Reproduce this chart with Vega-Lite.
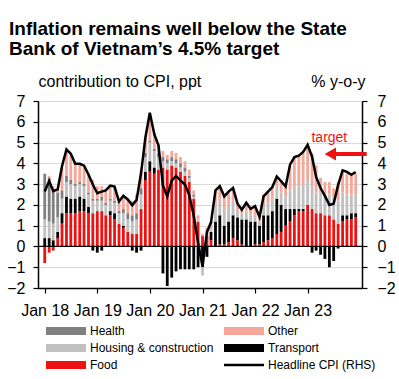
{
  "$schema": "https://vega.github.io/schema/vega-lite/v6.json",
  "width": 324,
  "height": 187,
  "autosize": "none",
  "padding": {"left": 38, "top": 101, "right": 37, "bottom": 91},
  "background": "white",
  "config": {
    "view": {"stroke": null},
    "font": "Liberation Sans Narrow, Liberation Sans, sans-serif",
    "axis": {
      "domainColor": "black", "domainWidth": 1.5, "tickColor": "black", "tickSize": 5, "tickWidth": 1.2,
      "labelColor": "black", "labelFont": "Liberation Sans Narrow, Liberation Sans, sans-serif", "labelFontSize": 16,
      "labelOverlap": false,
      "titleColor": "black", "titleFont": "Liberation Sans Narrow, Liberation Sans, sans-serif", "titleFontSize": 16, "titleFontWeight": "normal"
    },
    "legend": {"labelFont": "Liberation Sans", "labelFontSize": 12, "labelColor": "black", "labelLimit": 300}
  },
  "title": {
    "text": ["Inflation remains well below the State", "Bank of Vietnam’s 4.5% target"],
    "anchor": "start", "frame": "group", "font": "Liberation Sans", "fontSize": 19, "fontWeight": "bold", "color": "black",
    "lineHeight": 20, "dx": -29, "dy": -6, "offset": 8
  },
  "datasets": {
    "rank": [
      {"key": "Food", "name": "Food", "rank": 1},
      {"key": "Transport", "name": "Transport", "rank": 2},
      {"key": "Housing", "name": "Housing & construction", "rank": 3},
      {"key": "Health", "name": "Health", "rank": 4},
      {"key": "Other", "name": "Other", "rank": 5}
    ],
    "cpi": [
      {"d": "2018-01-01", "Food": -0.8, "Transport": 0.4, "Housing": 0.9, "Health": 2.2, "Other": 0.0, "CPI": 2.65},
      {"d": "2018-02-01", "Food": -0.3, "Transport": 0.4, "Housing": 0.8, "Health": 2.1, "Other": 0.1, "CPI": 3.15},
      {"d": "2018-03-01", "Food": -0.2, "Transport": 0.3, "Housing": 0.8, "Health": 1.6, "Other": 0.2, "CPI": 2.66},
      {"d": "2018-04-01", "Food": 0.4, "Transport": 0.3, "Housing": 0.7, "Health": 1.2, "Other": 0.2, "CPI": 2.75},
      {"d": "2018-05-01", "Food": 1.1, "Transport": 0.5, "Housing": 0.7, "Health": 0.4, "Other": 1.1, "CPI": 3.86},
      {"d": "2018-06-01", "Food": 1.6, "Transport": 0.8, "Housing": 0.7, "Health": 0.3, "Other": 1.2, "CPI": 4.67},
      {"d": "2018-07-01", "Food": 1.6, "Transport": 0.7, "Housing": 0.7, "Health": 0.2, "Other": 1.2, "CPI": 4.46},
      {"d": "2018-08-01", "Food": 1.6, "Transport": 0.7, "Housing": 0.6, "Health": 0.1, "Other": 1.0, "CPI": 3.98},
      {"d": "2018-09-01", "Food": 1.7, "Transport": 0.7, "Housing": 0.6, "Health": 0.1, "Other": 0.9, "CPI": 3.98},
      {"d": "2018-10-01", "Food": 1.7, "Transport": 0.6, "Housing": 0.6, "Health": 0.1, "Other": 0.8, "CPI": 3.89},
      {"d": "2018-11-01", "Food": 1.6, "Transport": 0.3, "Housing": 0.6, "Health": 0.1, "Other": 0.9, "CPI": 3.46},
      {"d": "2018-12-01", "Food": 1.6, "Transport": -0.2, "Housing": 0.6, "Health": 0.1, "Other": 0.9, "CPI": 2.98},
      {"d": "2019-01-01", "Food": 1.7, "Transport": -0.3, "Housing": 0.5, "Health": 0.1, "Other": 0.6, "CPI": 2.56},
      {"d": "2019-02-01", "Food": 1.7, "Transport": -0.2, "Housing": 0.5, "Health": 0.2, "Other": 0.5, "CPI": 2.64},
      {"d": "2019-03-01", "Food": 1.5, "Transport": 0.0, "Housing": 0.5, "Health": 0.1, "Other": 0.6, "CPI": 2.70},
      {"d": "2019-04-01", "Food": 1.5, "Transport": 0.2, "Housing": 0.5, "Health": 0.1, "Other": 0.6, "CPI": 2.93},
      {"d": "2019-05-01", "Food": 1.3, "Transport": 0.3, "Housing": 0.5, "Health": 0.1, "Other": 0.7, "CPI": 2.88},
      {"d": "2019-06-01", "Food": 1.1, "Transport": 0.0, "Housing": 0.5, "Health": 0.1, "Other": 0.5, "CPI": 2.16},
      {"d": "2019-07-01", "Food": 0.9, "Transport": 0.1, "Housing": 0.6, "Health": 0.2, "Other": 0.6, "CPI": 2.44},
      {"d": "2019-08-01", "Food": 0.7, "Transport": 0.0, "Housing": 0.6, "Health": 0.3, "Other": 0.7, "CPI": 2.26},
      {"d": "2019-09-01", "Food": 0.6, "Transport": -0.2, "Housing": 0.6, "Health": 0.3, "Other": 0.7, "CPI": 1.98},
      {"d": "2019-10-01", "Food": 0.6, "Transport": -0.3, "Housing": 0.7, "Health": 0.3, "Other": 0.9, "CPI": 2.24},
      {"d": "2019-11-01", "Food": 1.8, "Transport": -0.2, "Housing": 0.7, "Health": 0.3, "Other": 0.9, "CPI": 3.52},
      {"d": "2019-12-01", "Food": 3.2, "Transport": 0.4, "Housing": 0.7, "Health": 0.2, "Other": 0.7, "CPI": 5.23},
      {"d": "2020-01-01", "Food": 3.6, "Transport": 0.5, "Housing": 0.9, "Health": 0.1, "Other": 1.0, "CPI": 6.43},
      {"d": "2020-02-01", "Food": 3.5, "Transport": 0.3, "Housing": 0.8, "Health": 0.1, "Other": 0.8, "CPI": 5.40},
      {"d": "2020-03-01", "Food": 3.7, "Transport": 0.0, "Housing": 0.6, "Health": 0.2, "Other": 0.4, "CPI": 4.87},
      {"d": "2020-04-01", "Food": 3.8, "Transport": -1.3, "Housing": 0.3, "Health": 0.2, "Other": 0.3, "CPI": 2.93},
      {"d": "2020-05-01", "Food": 3.7, "Transport": -1.9, "Housing": 0.3, "Health": 0.2, "Other": 0.2, "CPI": 2.40},
      {"d": "2020-06-01", "Food": 3.9, "Transport": -1.5, "Housing": 0.2, "Health": 0.2, "Other": 0.3, "CPI": 3.17},
      {"d": "2020-07-01", "Food": 3.8, "Transport": -1.2, "Housing": 0.2, "Health": 0.2, "Other": 0.3, "CPI": 3.39},
      {"d": "2020-08-01", "Food": 3.6, "Transport": -1.1, "Housing": 0.2, "Health": 0.2, "Other": 0.3, "CPI": 3.18},
      {"d": "2020-09-01", "Food": 3.4, "Transport": -1.1, "Housing": 0.2, "Health": 0.2, "Other": 0.3, "CPI": 2.98},
      {"d": "2020-10-01", "Food": 3.1, "Transport": -1.1, "Housing": 0.2, "Health": 0.1, "Other": 0.3, "CPI": 2.47},
      {"d": "2020-11-01", "Food": 2.3, "Transport": -1.1, "Housing": 0.1, "Health": 0.1, "Other": 0.2, "CPI": 1.48},
      {"d": "2020-12-01", "Food": 1.2, "Transport": -1.0, "Housing": 0.1, "Health": 0.0, "Other": 0.2, "CPI": 0.19},
      {"d": "2021-01-01", "Food": 0.5, "Transport": -1.0, "Housing": -0.4, "Health": 0.0, "Other": 0.1, "CPI": -0.97},
      {"d": "2021-02-01", "Food": 0.5, "Transport": -0.5, "Housing": 0.1, "Health": 0.0, "Other": 0.3, "CPI": 0.70},
      {"d": "2021-03-01", "Food": 0.3, "Transport": 0.4, "Housing": 0.2, "Health": 0.0, "Other": 0.3, "CPI": 1.16},
      {"d": "2021-04-01", "Food": 0.0, "Transport": 1.2, "Housing": 0.8, "Health": 0.0, "Other": 0.7, "CPI": 2.70},
      {"d": "2021-05-01", "Food": 0.1, "Transport": 1.4, "Housing": 0.8, "Health": 0.0, "Other": 0.6, "CPI": 2.90},
      {"d": "2021-06-01", "Food": 0.1, "Transport": 0.9, "Housing": 0.8, "Health": 0.0, "Other": 0.6, "CPI": 2.41},
      {"d": "2021-07-01", "Food": 0.2, "Transport": 1.0, "Housing": 0.8, "Health": 0.0, "Other": 0.6, "CPI": 2.64},
      {"d": "2021-08-01", "Food": 0.4, "Transport": 1.1, "Housing": 0.7, "Health": 0.0, "Other": 0.6, "CPI": 2.82},
      {"d": "2021-09-01", "Food": 0.3, "Transport": 1.1, "Housing": 0.4, "Health": 0.0, "Other": 0.3, "CPI": 2.06},
      {"d": "2021-10-01", "Food": 0.1, "Transport": 1.2, "Housing": 0.3, "Health": 0.0, "Other": 0.3, "CPI": 1.77},
      {"d": "2021-11-01", "Food": 0.0, "Transport": 1.3, "Housing": 0.4, "Health": 0.0, "Other": 0.4, "CPI": 2.10},
      {"d": "2021-12-01", "Food": 0.0, "Transport": 1.2, "Housing": 0.3, "Health": 0.0, "Other": 0.4, "CPI": 1.81},
      {"d": "2022-01-01", "Food": 0.1, "Transport": 1.1, "Housing": 0.3, "Health": 0.0, "Other": 0.4, "CPI": 1.94},
      {"d": "2022-02-01", "Food": 0.1, "Transport": 0.9, "Housing": 0.2, "Health": 0.0, "Other": 0.3, "CPI": 1.42},
      {"d": "2022-03-01", "Food": 0.2, "Transport": 1.3, "Housing": 0.5, "Health": 0.0, "Other": 0.5, "CPI": 2.41},
      {"d": "2022-04-01", "Food": 0.3, "Transport": 1.2, "Housing": 0.6, "Health": 0.0, "Other": 0.5, "CPI": 2.64},
      {"d": "2022-05-01", "Food": 0.4, "Transport": 1.3, "Housing": 0.6, "Health": 0.0, "Other": 0.6, "CPI": 2.86},
      {"d": "2022-06-01", "Food": 0.6, "Transport": 1.7, "Housing": 0.6, "Health": 0.0, "Other": 0.5, "CPI": 3.37},
      {"d": "2022-07-01", "Food": 0.7, "Transport": 1.3, "Housing": 0.6, "Health": 0.0, "Other": 0.6, "CPI": 3.14},
      {"d": "2022-08-01", "Food": 1.0, "Transport": 0.8, "Housing": 0.6, "Health": 0.0, "Other": 0.6, "CPI": 2.89},
      {"d": "2022-09-01", "Food": 1.2, "Transport": 0.6, "Housing": 0.9, "Health": 0.0, "Other": 1.2, "CPI": 3.94},
      {"d": "2022-10-01", "Food": 1.5, "Transport": 0.3, "Housing": 1.1, "Health": 0.0, "Other": 1.4, "CPI": 4.30},
      {"d": "2022-11-01", "Food": 1.7, "Transport": 0.1, "Housing": 1.1, "Health": 0.0, "Other": 1.5, "CPI": 4.37},
      {"d": "2022-12-01", "Food": 1.7, "Transport": 0.1, "Housing": 1.2, "Health": 0.0, "Other": 1.5, "CPI": 4.55},
      {"d": "2023-01-01", "Food": 2.0, "Transport": 0.0, "Housing": 1.2, "Health": 0.0, "Other": 1.7, "CPI": 4.89},
      {"d": "2023-02-01", "Food": 1.8, "Transport": -0.3, "Housing": 1.1, "Health": 0.0, "Other": 1.6, "CPI": 4.31},
      {"d": "2023-03-01", "Food": 1.6, "Transport": -0.2, "Housing": 1.0, "Health": 0.0, "Other": 1.3, "CPI": 3.35},
      {"d": "2023-04-01", "Food": 1.6, "Transport": -0.4, "Housing": 1.0, "Health": 0.0, "Other": 0.7, "CPI": 2.81},
      {"d": "2023-05-01", "Food": 1.5, "Transport": -0.6, "Housing": 1.0, "Health": 0.0, "Other": 0.6, "CPI": 2.43},
      {"d": "2023-06-01", "Food": 1.5, "Transport": -1.0, "Housing": 1.0, "Health": 0.0, "Other": 0.6, "CPI": 2.00},
      {"d": "2023-07-01", "Food": 1.3, "Transport": -0.7, "Housing": 1.0, "Health": 0.0, "Other": 0.5, "CPI": 2.06},
      {"d": "2023-08-01", "Food": 1.1, "Transport": -0.1, "Housing": 1.1, "Health": 0.0, "Other": 0.9, "CPI": 2.96},
      {"d": "2023-09-01", "Food": 1.2, "Transport": 0.3, "Housing": 1.1, "Health": 0.0, "Other": 1.0, "CPI": 3.66},
      {"d": "2023-10-01", "Food": 1.3, "Transport": 0.2, "Housing": 1.0, "Health": 0.0, "Other": 1.0, "CPI": 3.59},
      {"d": "2023-11-01", "Food": 1.3, "Transport": 0.3, "Housing": 0.9, "Health": 0.0, "Other": 0.9, "CPI": 3.45},
      {"d": "2023-12-01", "Food": 1.4, "Transport": 0.2, "Housing": 0.9, "Health": 0.0, "Other": 1.0, "CPI": 3.58}
    ]
  },
  "data": {"name": "cpi"},
  "layer": [
    {
      "layer": [
        {
          "transform": [
            {"fold": ["Food", "Transport", "Housing", "Health", "Other"]},
            {"lookup": "key", "from": {"data": {"name": "rank"}, "key": "key", "fields": ["name", "rank"]}}
          ],
          "mark": {"type": "bar", "size": 2.8},
          "encoding": {
            "x": {
              "field": "d", "type": "temporal", "title": null,
              "scale": {"domain": [{"year": 2017, "month": 12, "date": 20}, {"year": 2023, "month": 12, "date": 10}]},
              "axis": {
                "values": [
                  {"year": 2018, "month": 1, "date": 1}, {"year": 2019, "month": 1, "date": 1},
                  {"year": 2020, "month": 1, "date": 1}, {"year": 2021, "month": 1, "date": 1},
                  {"year": 2022, "month": 1, "date": 1}, {"year": 2023, "month": 1, "date": 1}
                ],
                "format": "%b %y", "labelPadding": 9, "grid": false, "labelFlush": false, "labelOverlap": false
              }
            },
            "y": {
              "field": "value", "type": "quantitative", "stack": "zero",
              "scale": {"domain": [-2, 7], "nice": false, "zero": false},
              "axis": {
                "values": [-2, -1, 0, 1, 2, 3, 4, 5, 6, 7], "tickCount": 10, "labelOverlap": false,
                "grid": true, "gridColor": "#d9d9d9", "gridWidth": 1,
                "labelPadding": 8, "title": "contribution to CPI, ppt", "titleAngle": 0, "titleAlign": "left",
                "titleBaseline": "alphabetic", "titleX": 0, "titleY": -15
              }
            },
            "color": {
              "field": "name", "type": "nominal",
              "scale": {
                "domain": ["Health", "Housing & construction", "Food", "Other", "Transport", "Headline CPI (RHS)"],
                "range": ["#808080", "#c0c0c0", "#ee1111", "#f5a89a", "#000000", "#000000"]
              },
              "legend": {
                "orient": "none", "legendX": 22, "legendY": 224, "columns": 2, "title": null, "padding": 0,
                "symbolType": "M-5,-1H5V1H-5Z", "symbolSize": 64, "labelOffset": 18,
                "labelFont": "Liberation Sans", "labelFontSize": 12, "labelColor": "black", "labelLimit": 300,
                "columnPadding": 5, "rowPadding": 5,
                "encode": {
                  "symbols": {
                    "update": {
                      "shape": {"signal": "datum.value === 'Headline CPI (RHS)' ? 'M-5,0H5' : 'M-5,-1H5V1H-5Z'"},
                      "fill": {"scale": "color", "field": "value"},
                      "stroke": {"value": "black"},
                      "strokeWidth": {"signal": "datum.value === 'Headline CPI (RHS)' ? 2.5 : 0"},
                      "opacity": {"value": 1}
                    }
                  }
                }
              }
            },
            "order": {"field": "rank", "type": "quantitative"}
          }
        },
        {
          "data": {"values": [{}]},
          "mark": {"type": "rule", "color": "black", "strokeWidth": 1.3},
          "encoding": {"y": {"datum": 0, "type": "quantitative", "scale": {"domain": [-2, 7], "nice": false, "zero": false}}}
        }
      ]
    },
    {
      "layer": [
        {
          "mark": {"type": "line", "strokeWidth": 2.5},
          "encoding": {
            "x": {"field": "d", "type": "temporal", "title": null},
            "y": {
              "field": "CPI", "type": "quantitative",
              "scale": {"domain": [-2, 7], "nice": false, "zero": false},
              "axis": {
                "orient": "right", "values": [-2, -1, 0, 1, 2, 3, 4, 5, 6, 7], "tickCount": 10, "labelOverlap": false,
                "grid": false, "labelPadding": 10,
                "title": "% y-o-y", "titleAngle": 0, "titleAlign": "right", "titleBaseline": "alphabetic", "titleX": 3, "titleY": -15
              }
            },
            "color": {"datum": "Headline CPI (RHS)"}
          }
        },
        {
          "data": {"values": [{}]},
          "mark": {"type": "rule", "color": "#ee1111", "strokeWidth": 4},
          "encoding": {
            "x": {"datum": {"year": 2023, "month": 7, "date": 10}, "type": "temporal", "title": null},
            "x2": {"datum": {"year": 2024, "month": 2, "date": 15}},
            "y": {"datum": 4.45, "type": "quantitative", "scale": {"domain": [-2, 7], "nice": false, "zero": false}}
          }
        },
        {
          "data": {"values": [{}]},
          "mark": {"type": "point", "shape": "triangle-left", "filled": true, "color": "#ee1111", "size": 170, "opacity": 1},
          "encoding": {
            "x": {"datum": {"year": 2023, "month": 6, "date": 8}, "type": "temporal", "title": null},
            "y": {"datum": 4.45, "type": "quantitative", "scale": {"domain": [-2, 7], "nice": false, "zero": false}}
          }
        },
        {
          "data": {"values": [{}]},
          "mark": {"type": "text", "text": "target", "color": "#ee1111", "fontSize": 14, "align": "center", "baseline": "alphabetic",
                   "font": "Liberation Sans", "fontWeight": "normal"},
          "encoding": {
            "x": {"datum": {"year": 2023, "month": 6, "date": 1}, "type": "temporal", "title": null},
            "y": {"datum": 5.05, "type": "quantitative", "scale": {"domain": [-2, 7], "nice": false, "zero": false}}
          }
        }
      ]
    }
  ],
  "resolve": {"scale": {"y": "independent"}}
}
